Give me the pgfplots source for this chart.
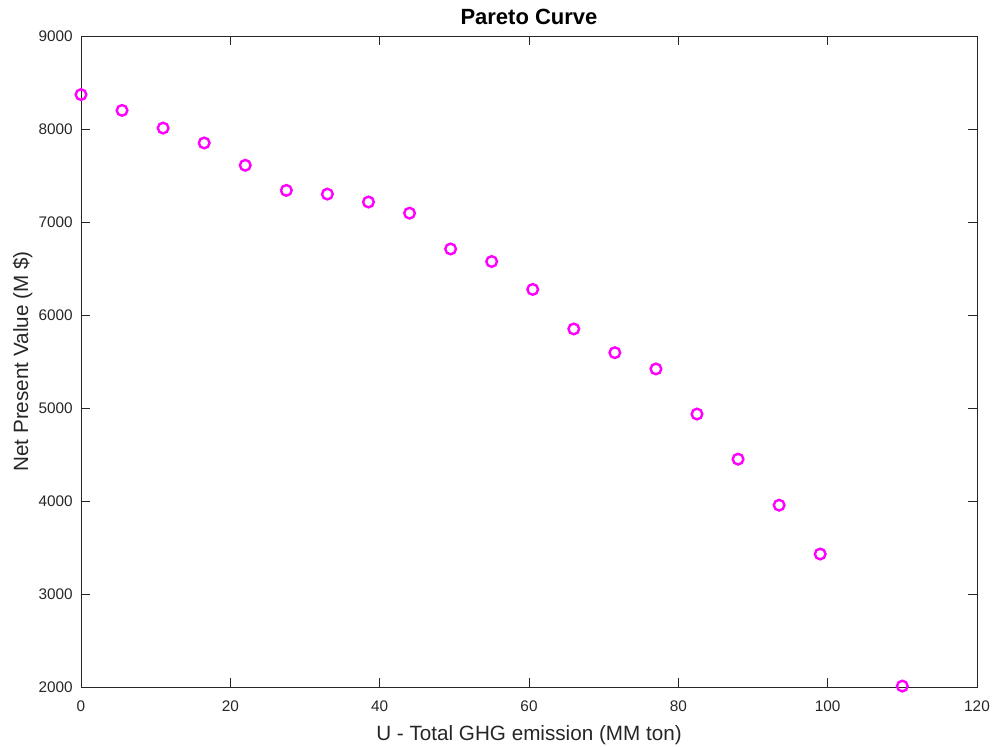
\documentclass[border=0pt]{standalone}
\usepackage{pgfplots}
\pgfplotsset{compat=1.18}
\usepackage{fontspec}
\setmainfont{Liberation Sans}
\definecolor{axgray}{RGB}{38,38,38}
\definecolor{mag}{RGB}{255,0,255}
\begin{document}
\begin{tikzpicture}
\useasboundingbox (-60.75pt,-44.25pt) rectangle (684.75pt,515.25pt);
\begin{axis}[
  at={(0pt,0pt)}, anchor=south west,
  scale only axis, width=672pt, height=488.25pt,
  xmin=0, xmax=120, ymin=2000, ymax=9000,
  xtick={0,20,...,120}, ytick={2000,3000,...,9000},
  tick align=inside, tick pos=both,
  major tick length=7pt,
  axis line style={axgray, line width=0.6pt},
  every tick/.style={axgray, line width=0.6pt},
  tick label style={font=\fontsize{11.5}{13}\selectfont, text=axgray},
  xticklabel style={yshift=-7pt},
  yticklabel style={xshift=-2.7pt},
  /pgf/number format/assume math mode=true,
  /pgf/number format/1000 sep={},
  scaled y ticks=false,
  xlabel={U - Total GHG emission (MM ton)},
  ylabel={Net Present Value (M \$)},
  label style={font=\fontsize{15.5}{18}\selectfont, text=axgray},
  xlabel style={at={(axis description cs:0.5,-0.08141)}, anchor=base},
  ylabel style={at={(axis description cs:-0.05915,0.5)}, anchor=base, rotate=0},
  title={\textbf{Pareto Curve}},
  title style={font=\fontsize{16.5}{19}\selectfont, at={(axis description cs:0.5,1.0169)}, anchor=base, yshift=-6pt},
  clip=false,
]
\addplot[only marks, mark=o, mark size=4pt, color=mag, line width=1.8pt] coordinates {
(0,8370) (5.5,8200) (11,8010) (16.5,7850) (22,7610) (27.5,7340) (33,7300) (38.5,7215) (44,7095) (49.5,6710) (55,6575) (60.5,6275) (66,5850) (71.5,5595) (77,5420) (82.5,4935) (88,4450) (93.5,3955) (99,3430) (110,2010)
};
\end{axis}
\end{tikzpicture}
\end{document}
